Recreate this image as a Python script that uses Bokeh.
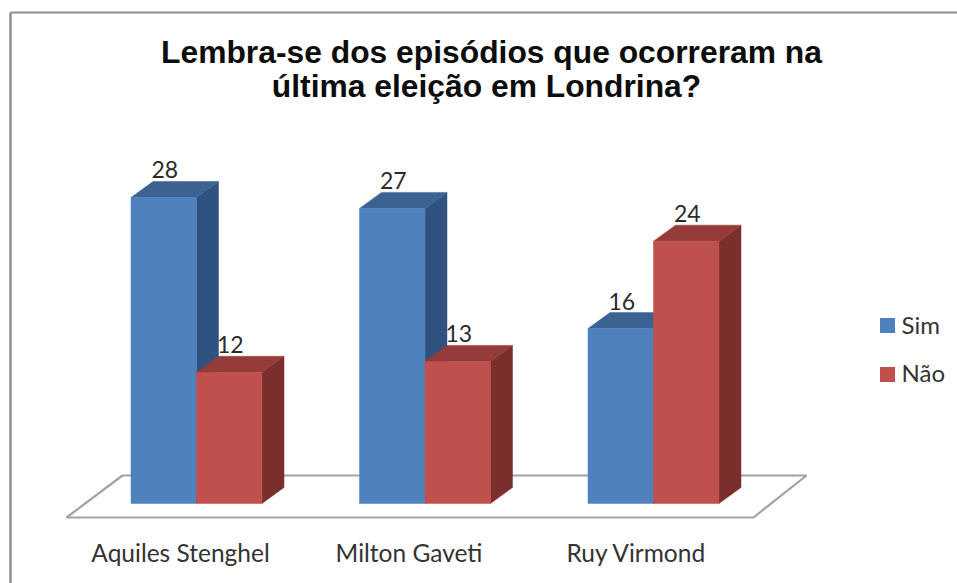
from bokeh.plotting import figure
from bokeh.models import ColumnDataSource, Range1d
from bokeh.core.properties import value
from bokeh.embed import file_html
from bokeh.resources import INLINE

title_lines = ["Lembra-se dos episódios que ocorreram na", "última eleição em Londrina?"]
categories = ["Aquiles Stenghel", "Milton Gaveti", "Ruy Virmond"]
sim = [28, 27, 16]
nao = [12, 13, 24]
series_names = ["Sim", "Não"]

W, H = 957, 583
PX_X = 228.5      # pixels per category
PX_Y = 10.93      # pixels per value unit
X0, Y0 = 196.0, 503.0   # picture pixel of category 0 / value 0
BW = 65.5 / PX_X
DX = 22 / PX_X
DY = 16 / PX_Y

def fx(px):
    return (px - X0) / PX_X

def fy(py):
    return (Y0 - py) / PX_Y

p = figure(width=W, height=H, output_backend="svg", toolbar_location=None,
           x_range=Range1d(fx(0), fx(W)), y_range=Range1d(fy(H), fy(0)),
           min_border=0, min_border_left=0, min_border_right=0, min_border_top=0, min_border_bottom=0,
           outline_line_color=None, background_fill_color="white", border_fill_color="white")
p.axis.visible = False
p.grid.visible = False

# chart border
p.line([fx(10), fx(10)], [fy(H), fy(12)], line_color="#8f8f8f", line_width=2.5)
p.line([fx(10), fx(W)], [fy(12), fy(12)], line_color="#8f8f8f", line_width=2)

# floor
p.patch([fx(66), fx(753), fx(806), fx(122)], [fy(517), fy(517), fy(475), fy(475)],
        fill_color="white", line_color="#a3a3a3", line_width=2.2)

def bars(vals, left_off, front, top, side):
    fx_l, fy_l, tx, ty, sx, sy = [], [], [], [], [], []
    for i, v in enumerate(vals):
        l = i + left_off
        r = l + BW
        fx_l.append([l, r, r, l]); fy_l.append([0, 0, v, v])
        tx.append([l, r, r + DX, l + DX]); ty.append([v, v, v + DY, v + DY])
        sx.append([r, r + DX, r + DX, r]); sy.append([0, DY, v + DY, v])
    p.patches(sx, sy, fill_color=side, line_color=side, line_width=0.5)
    p.patches(tx, ty, fill_color=top, line_color=top, line_width=0.5)
    p.patches(fx_l, fy_l, fill_color=front, line_color=front, line_width=0.5)

bars(sim, -BW, "#4f81bd", "#3b6290", "#2f5280")
bars(nao, 0, "#c0504d", "#953b39", "#7b2f2d")

# value labels
LBL = 27.5 / PX_Y
src = ColumnDataSource(dict(
    x=[i - BW / 2 + 1 / PX_X for i in range(3)] + [i + BW / 2 + 1 / PX_X for i in range(3)],
    y=[v + LBL for v in sim] + [v + LBL for v in nao],
    t=[str(v) for v in sim] + [str(v) for v in nao]))
p.text("x", "y", text="t", source=src, text_font=value("Lato"), text_font_size="23px",
       text_color="#2b2b2b", text_align="center", text_baseline="alphabetic")

# category labels
p.text([0 - 16 / PX_X, 1 - 16 / PX_X, 2 - 17 / PX_X], [fy(552)] * 3, text=categories,
       text_font=value("Lato"), text_font_size="24.5px", text_color="#333333",
       text_align="center", text_baseline="alphabetic")

# title
p.text([fx(491), fx(486)], [fy(51), fy(85)], text=title_lines,
       text_font=value("Liberation Sans"), text_font_size="31.8px", text_font_style="bold",
       text_color="#0d0d0d", text_align="center", text_baseline="alphabetic")

# legend
p.rect([fx(887), fx(887)], [fy(325), fy(374)], width=15 / PX_X, height=15 / PX_Y,
       fill_color=["#4f81bd", "#c0504d"], line_color=None)
p.text([fx(901), fx(901)], [fy(324), fy(372)], text=series_names,
       text_font=value("Lato"), text_font_size="24px", text_color="#333333",
       text_align="left", text_baseline="alphabetic")

open("out.html", "w").write(file_html(p, INLINE))
